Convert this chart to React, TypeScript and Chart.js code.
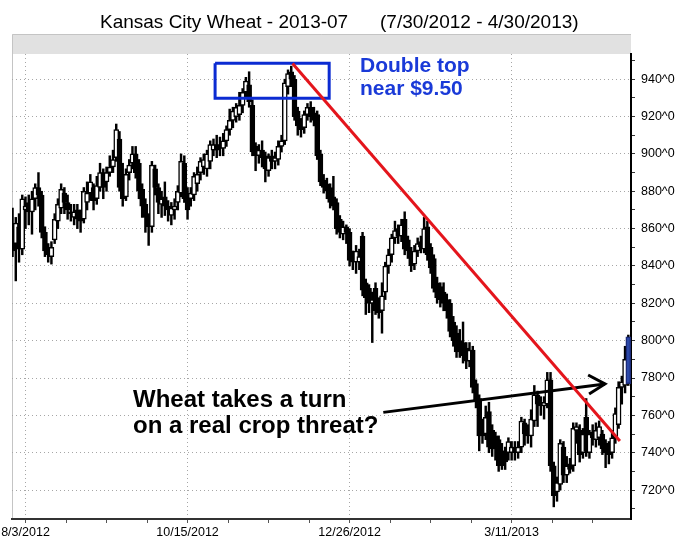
import { useEffect, useRef } from "react";
import { Chart, registerables } from "chart.js";

Chart.register(...registerables);

// Daily OHLC, Kansas City Wheat 2013-07 (bar index 0 = 7/30/2012)
const opens = [
  861, 852, 861, 849, 870, 874, 869, 876, 882, 878, 858, 849, 845, 854, 864, 871, 879, 874, 869, 866,
  870, 867, 865, 874, 879, 882, 876, 882, 890, 885, 890, 893, 898, 908, 888, 877, 890, 895, 900, 895,
  881, 873, 866, 861, 892, 882, 873, 877, 872, 867, 870, 874, 879, 895, 879, 876, 878, 884, 890, 893,
  892, 896, 902, 905, 905, 903, 907, 913, 918, 920, 921, 926, 933, 937, 926, 904, 899, 902, 899, 891,
  899, 896, 897, 904, 907, 936, 944, 940, 923, 917, 914, 921, 925, 922, 921, 900, 886, 884, 882, 877,
  874, 865, 857, 861, 858, 846, 842, 842, 856, 831, 828, 820, 828, 820, 816, 826, 840, 846, 855, 860,
  856, 865, 854, 848, 841, 848, 853, 849, 861, 850, 844, 831, 829, 826, 822, 820, 810, 804, 800, 799,
  796, 789, 795, 777, 769, 755, 750, 762, 752, 749, 747, 741, 741, 740, 740, 743, 740, 743, 756, 752,
  749, 757, 771, 767, 765, 766, 779, 733, 719, 723, 743, 728, 734, 733, 752, 752, 740, 759, 740, 751,
  747, 748, 750, 745, 742, 740, 748, 755, 775, 776, 777,
];
const highs = [
  871, 866, 868, 878, 877, 878, 880, 884, 890, 880, 861, 852, 853, 868, 876, 884, 882, 878, 873, 873,
  873, 870, 882, 885, 889, 884, 888, 895, 892, 893, 899, 902, 916, 912, 895, 892, 897, 904, 904, 897,
  884, 876, 868, 896, 894, 884, 880, 885, 875, 874, 876, 883, 900, 899, 882, 882, 890, 893, 898, 900,
  902, 907, 908, 910, 909, 911, 915, 924, 925, 927, 933, 935, 941, 944, 929, 906, 905, 907, 901, 900,
  902, 901, 907, 910, 940, 945, 947, 942, 925, 919, 923, 927, 928, 925, 923, 902, 889, 887, 884, 888,
  876, 867, 864, 862, 860, 848, 851, 849, 858, 833, 830, 826, 831, 823, 831, 842, 849, 857, 864, 862,
  865, 869, 856, 850, 851, 855, 856, 866, 864, 852, 846, 834, 831, 831, 825, 822, 813, 808, 806, 810,
  799, 799, 797, 779, 771, 758, 765, 767, 755, 751, 749, 745, 743, 748, 746, 746, 746, 759, 758, 755,
  763, 776, 773, 770, 770, 783, 783, 735, 727, 747, 746, 738, 737, 756, 756, 755, 753, 769, 752, 755,
  756, 757, 752, 747, 746, 752, 764, 778, 781, 797, 803,
];
const lows = [
  845, 832, 842, 846, 860, 862, 857, 870, 872, 855, 845, 842, 841, 852, 860, 868, 868, 865, 864, 862,
  860, 858, 863, 870, 875, 870, 873, 880, 876, 880, 888, 890, 896, 880, 872, 875, 886, 892, 887, 876,
  866, 858, 851, 858, 878, 868, 866, 867, 864, 862, 865, 870, 877, 874, 865, 872, 875, 880, 886, 889,
  888, 892, 899, 898, 899, 899, 904, 910, 914, 917, 918, 922, 930, 925, 899, 891, 895, 893, 885, 888,
  892, 892, 894, 901, 905, 932, 936, 918, 910, 909, 911, 918, 917, 915, 897, 883, 879, 876, 871, 870,
  857, 855, 854, 852, 840, 838, 836, 838, 824, 814, 815, 799, 814, 812, 804, 822, 836, 842, 852, 852,
  853, 846, 844, 837, 838, 845, 847, 847, 843, 836, 826, 820, 818, 816, 812, 802, 797, 791, 791, 788,
  785, 786, 772, 764, 741, 745, 747, 740, 738, 736, 730, 731, 731, 736, 736, 736, 737, 740, 744, 745,
  743, 754, 754, 760, 758, 764, 730, 711, 714, 720, 724, 724, 729, 730, 745, 735, 737, 738, 737, 744,
  743, 744, 739, 732, 734, 737, 745, 753, 766, 772, 776,
];
const closes = [
  848, 863, 849, 876, 872, 869, 876, 882, 878, 858, 848, 846, 850, 865, 873, 881, 874, 870, 868, 869,
  865, 864, 880, 879, 885, 875, 883, 890, 882, 890, 893, 897, 913, 882, 876, 889, 894, 900, 890, 880,
  872, 866, 861, 894, 882, 874, 876, 872, 870, 871, 872, 880, 896, 876, 870, 879, 888, 889, 896, 897,
  900, 905, 905, 902, 903, 907, 913, 918, 923, 925, 926, 933, 939, 928, 901, 899, 902, 898, 892, 898,
  896, 898, 904, 907, 938, 943, 940, 920, 915, 913, 921, 925, 920, 918, 899, 885, 882, 880, 874, 872,
  860, 858, 861, 858, 843, 842, 848, 845, 827, 823, 820, 822, 816, 815, 824, 840, 846, 855, 859, 856,
  862, 849, 848, 840, 848, 852, 850, 860, 846, 839, 828, 823, 822, 820, 816, 805, 800, 794, 796, 792,
  789, 795, 775, 768, 749, 749, 759, 743, 742, 742, 733, 733, 735, 746, 743, 740, 743, 757, 750, 749,
  758, 771, 766, 765, 767, 779, 733, 717, 724, 745, 728, 733, 731, 753, 754, 739, 750, 741, 750, 748,
  752, 754, 742, 740, 739, 748, 761, 775, 778, 790, 802,
];

// Axis ticks
const xTickValues = [4, 16.5, 29, 41.5, 54, 66.5, 79, 91.5, 104, 116.5, 129, 141.5, 154, 166.5, 179];
const xLabelValues = [4, 54, 104, 154];
const xLabels = ["8/3/2012", "10/15/2012", "12/26/2012", "3/11/2013"];
const yTickValues = [710, 720, 730, 740, 750, 760, 770, 780, 790, 800, 810, 820, 830, 840, 850, 860, 870, 880, 890, 900, 910, 920, 930, 940, 950];
const yLabelValues = [720, 740, 760, 780, 800, 820, 840, 860, 880, 900, 920, 940];

// Annotations in data coordinates (bar index, price)
const trendLine = [
  { x: 86.4, y: 948.4 },
  { x: 187.4, y: 746.3 },
];
const arrowShaft = [
  { x: 114.4, y: 761.6 },
  { x: 182.8, y: 776.8 },
];
const arrowHead = [
  { x: 177.6, y: 781.6 },
  { x: 182.8, y: 776.8 },
  { x: 177.9, y: 771.4 },
];
const topBox = [
  { x: 62.5, y: 948.5 },
  { x: 97.7, y: 948.5 },
  { x: 97.7, y: 929.8 },
  { x: 62.5, y: 929.8 },
  { x: 62.5, y: 948.5 },
];

const FONT = "'Liberation Sans', Arial, sans-serif";

export default function App() {
  const ref = useRef<HTMLCanvasElement>(null);

  useEffect(() => {
    const last = opens.length - 1;
    const wickData = opens.map((_, i) => ({ x: i, y: [lows[i], highs[i]] }));
    const bodyData = opens.map((_, i) => ({ x: i, y: [opens[i], closes[i]] }));

    const deco = {
      id: "deco",
      beforeDraw(chart: any) {
        const { ctx, chartArea: a } = chart;
        ctx.save();
        ctx.fillStyle = "#ffffff";
        ctx.fillRect(0, 0, chart.width, chart.height);
        ctx.fillStyle = "#e1e1e1";
        ctx.fillRect(a.left, 34, a.right - a.left, a.top - 34);
        ctx.strokeStyle = "#c4c4c4";
        ctx.lineWidth = 1;
        ctx.beginPath();
        ctx.moveTo(a.left + 0.5, a.bottom);
        ctx.lineTo(a.left + 0.5, 34.5);
        ctx.lineTo(a.right, 34.5);
        ctx.stroke();
        ctx.restore();
      },
      afterDraw(chart: any) {
        const { ctx } = chart;
        ctx.save();
        ctx.textBaseline = "alphabetic";
        ctx.textAlign = "left";
        ctx.fillStyle = "#000";
        ctx.font = `19px ${FONT}`;
        ctx.fillText("Kansas City Wheat - 2013-07", 100, 28);
        ctx.fillText("(7/30/2012 - 4/30/2013)", 380, 28);
        ctx.fillStyle = "#1a3ad8";
        ctx.font = `bold 21px ${FONT}`;
        ctx.fillText("Double top", 360, 72);
        ctx.fillText("near $9.50", 360, 95);
        ctx.fillStyle = "#000";
        ctx.font = `bold 24px ${FONT}`;
        ctx.fillText("Wheat takes a turn", 133, 407);
        ctx.fillText("on a real crop threat?", 133, 433);
        ctx.restore();
      },
    };

    const lineDs = (data: any[], color: string) => ({
      type: "line" as const,
      data,
      borderColor: color,
      backgroundColor: color,
      borderWidth: 3,
      pointRadius: 0,
      tension: 0,
      fill: false,
      borderJoinStyle: "miter" as const,
      order: -1,
    });

    const chart = new Chart(ref.current as HTMLCanvasElement, {
      type: "bar",
      data: {
        datasets: [
          lineDs(trendLine, "#e4151c"),
          lineDs(arrowShaft, "#000000"),
          lineDs(arrowHead, "#000000"),
          lineDs(topBox, "#0b2bd2"),
          {
            type: "bar",
            data: bodyData as any,
            grouped: false,
            barThickness: 5,
            borderWidth: 1.5,
            borderSkipped: false,
            backgroundColor: (c: any) => {
              const i = c.dataIndex;
              if (i === undefined) return "#000";
              if (i === last) return "#2b48a8";
              return closes[i] >= opens[i] ? "#ffffff" : "#000000";
            },
            borderColor: (c: any) => (c.dataIndex === last ? "#1b2a78" : "#000000"),
            order: 0,
          },
          {
            type: "bar",
            data: wickData as any,
            grouped: false,
            barThickness: 1.8,
            borderWidth: 0,
            backgroundColor: "#000000",
            order: 1,
          },
        ] as any,
      },
      options: {
        animation: false,
        responsive: true,
        maintainAspectRatio: false,
        events: [],
        layout: { padding: { left: 12, top: 54, right: 0, bottom: 0 } },
        plugins: {
          legend: { display: false },
          tooltip: { enabled: false },
          title: { display: false },
        },
        scales: {
          x: {
            type: "linear",
            min: -0.165,
            max: 190.83,
            offset: false,
            afterBuildTicks: (s: any) => {
              s.ticks = xTickValues.map((v) => ({ value: v }));
            },
            afterFit: (s: any) => {
              s.height = 20;
              s.paddingLeft = 0;
              s.paddingRight = 0;
            },
            ticks: {
              autoSkip: false,
              maxRotation: 0,
              minRotation: 0,
              padding: 2,
              color: "#000",
              font: { family: FONT, size: 12.5 },
              callback: (v: any) => {
                const k = xLabelValues.indexOf(Number(v));
                return k >= 0 ? xLabels[k] : "";
              },
            },
            grid: {
              offset: false,
              color: (c: any) =>
                c.tick && xLabelValues.includes(c.tick.value) ? "#a6a6a6" : "rgba(0,0,0,0)",
              tickColor: "#555",
              tickLength: 4,
              lineWidth: 1,
            },
            border: { color: "#333", width: 2, dash: [1, 3] },
          },
          y: {
            type: "linear",
            position: "right",
            min: 704.5,
            max: 953.5,
            afterBuildTicks: (s: any) => {
              s.ticks = yTickValues.map((v) => ({ value: v }));
            },
            afterFit: (s: any) => {
              s.width = 47;
              s.paddingTop = 0;
              s.paddingBottom = 0;
            },
            ticks: {
              padding: 6,
              color: "#000",
              font: { family: FONT, size: 12.5 },
              callback: (v: any) => (yLabelValues.includes(Number(v)) ? `${v}^0` : ""),
            },
            grid: {
              color: (c: any) =>
                c.tick && yLabelValues.includes(c.tick.value) ? "#a6a6a6" : "rgba(0,0,0,0)",
              tickColor: "#333",
              tickLength: 4,
              lineWidth: 1,
            },
            border: { color: "#000", width: 2, dash: [1, 3] },
          },
        },
      },
      plugins: [deco],
    });
    return () => chart.destroy();
  }, []);

  return (
    <div style={{ position: "fixed", left: 0, top: 0, width: 678, height: 539, background: "#fff" }}>
      <canvas ref={ref} />
    </div>
  );
}
